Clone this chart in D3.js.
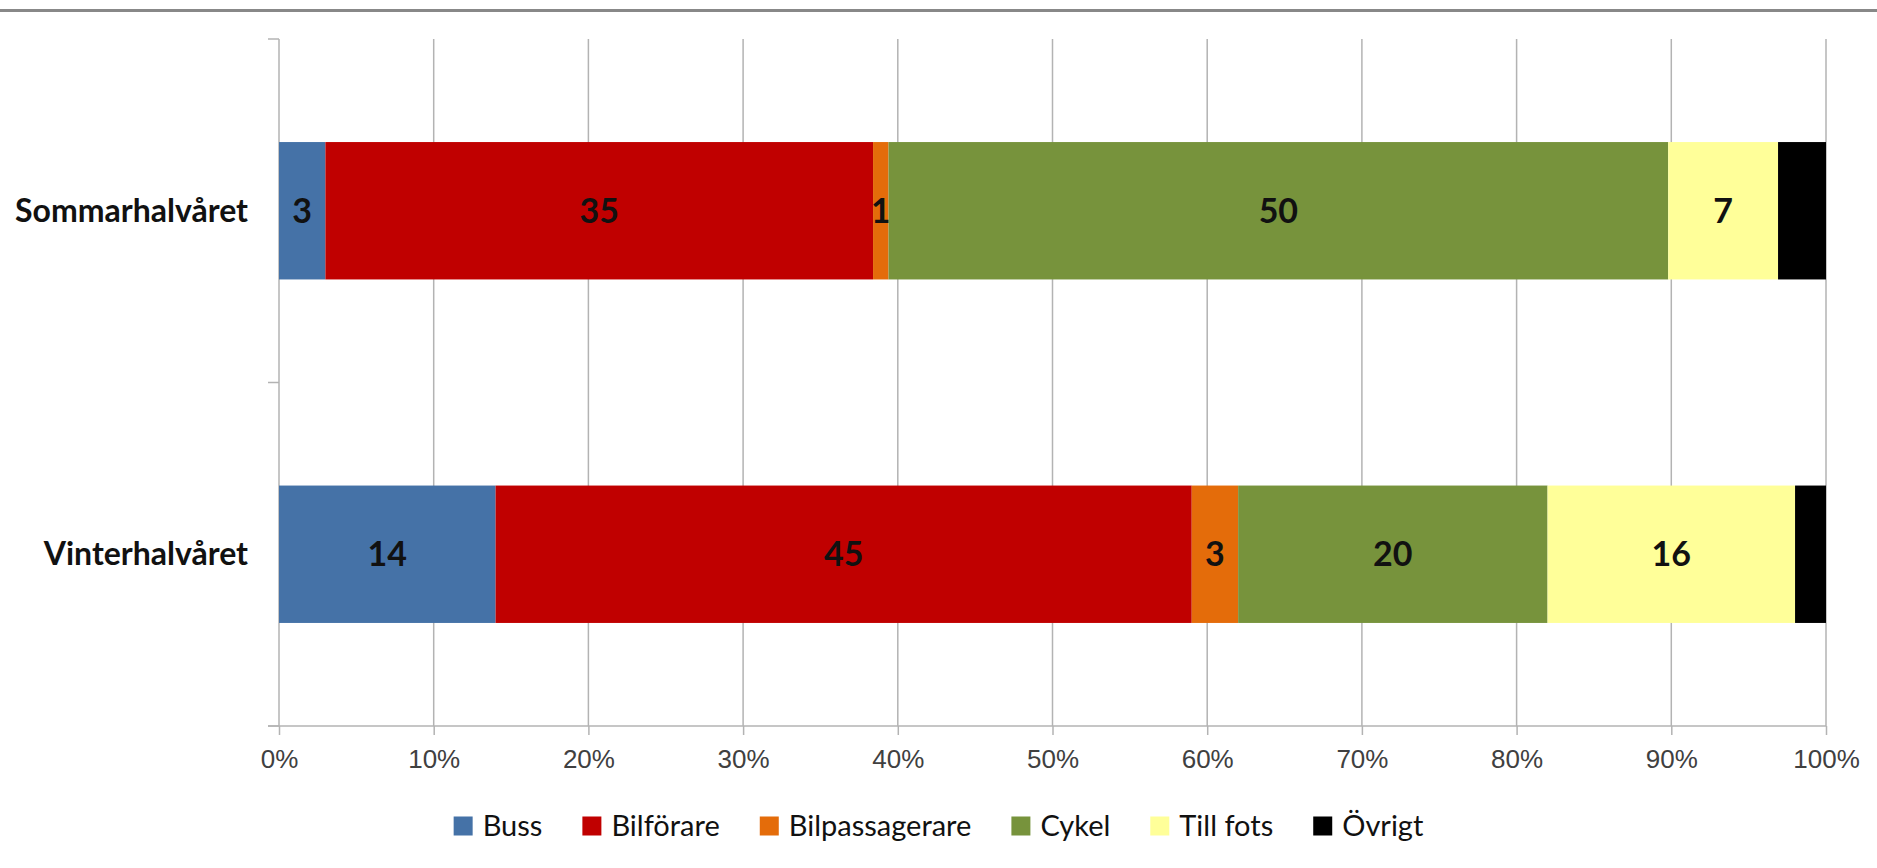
<!DOCTYPE html>
<html lang="sv">
<head>
<meta charset="utf-8" />
<title>Färdmedel sommar/vinter</title>
<style>
  body { margin: 0; background: #fff; }
  svg { display: block; font-family: Lato, "Open Sans", sans-serif; }
  .grid line { stroke: #b3b3b3; stroke-width: 1.5; }
  .axis path, .axis line { stroke: #b3b3b3; stroke-width: 1.5; fill: none; }
  .xlab { font-size: 26px; fill: #404040; }
  .ylab { font-size: 32px; font-weight: bold; fill: #111; }
  .val { font-size: 34px; font-weight: bold; fill: #111; }
  .leg text { font-size: 29px; fill: #111; }
</style>
</head>
<body>
<div id="chart"></div>
<script src="https://d3js.org/d3.v7.min.js"></script>
<script>
// data (share in %)
var categories = ["Sommarhalvåret", "Vinterhalvåret"];
var seriesNames = ["Buss", "Bilförare", "Bilpassagerare", "Cykel", "Till fots", "Övrigt"];
var sommarValues = [3.0, 35.4, 1.0, 50.4, 7.1, 3.1];
var vinterValues = [14, 45, 3, 20, 16, 2];
var seriesColors = ["#4572a7", "#c00000", "#e46c0a", "#77933c", "#ffff99", "#000000"];
var showLabel = [true, true, true, true, true, false];
var tickValues = [0, 10, 20, 30, 40, 50, 60, 70, 80, 90, 100];

var width = 1877, height = 868;
var margin = {top: 39, right: 51, bottom: 142, left: 279};

var svg = d3.select("#chart").append("svg")
    .attr("width", width)
    .attr("height", height);

// grey rule across the top
svg.append("line")
   .attr("x1", 0).attr("x2", width)
   .attr("y1", 10.5).attr("y2", 10.5)
   .attr("stroke", "#888").attr("stroke-width", 3);

var x = d3.scaleLinear().domain([0, 100]).range([margin.left, width - margin.right]);
var y = d3.scaleBand().domain(categories)
    .range([margin.top, height - margin.bottom])
    .paddingInner(0.6).paddingOuter(0.3);

var rows = categories.map(function(c, i) {
  var vals = i === 0 ? sommarValues : vinterValues;
  var row = {cat: c};
  seriesNames.forEach(function(s, j) { row[s] = vals[j]; });
  return row;
});
var stacked = d3.stack().keys(seriesNames)(rows);

// vertical gridlines
svg.append("g").attr("class", "grid")
  .selectAll("line")
  .data(tickValues.slice(1))
  .enter().append("line")
  .attr("x1", function(d) { return x(d); })
  .attr("x2", function(d) { return x(d); })
  .attr("y1", margin.top)
  .attr("y2", height - margin.bottom);

// x axis
var xAxis = svg.append("g").attr("class", "axis")
  .attr("transform", "translate(0," + (height - margin.bottom) + ")")
  .call(d3.axisBottom(x).tickValues(tickValues).tickSize(9).tickSizeOuter(0)
        .tickFormat(function(d) { return d + "%"; }));
xAxis.select(".domain").attr("d", "M" + (margin.left - 11) + ",0H" + x(100));
xAxis.selectAll("text").attr("class", "xlab").attr("y", 24).attr("dy", "0.71em");

// y axis: line plus ticks at band boundaries
var step = y.step();
var yTicks = [margin.top, margin.top + step, height - margin.bottom];
var yAxis = svg.append("g").attr("class", "axis");
yAxis.append("line")
  .attr("x1", margin.left).attr("x2", margin.left)
  .attr("y1", margin.top).attr("y2", height - margin.bottom);
yAxis.selectAll(".yt").data(yTicks).enter().append("line")
  .attr("x1", margin.left - 11).attr("x2", margin.left)
  .attr("y1", function(d) { return d; }).attr("y2", function(d) { return d; });

yAxis.selectAll(".ylab").data(categories).enter().append("text")
  .attr("class", "ylab")
  .attr("x", margin.left - 31)
  .attr("y", function(d) { return y(d) + y.bandwidth() / 2; })
  .attr("dy", "0.35em")
  .attr("text-anchor", "end")
  .text(function(d) { return d; });

// bars
var layers = svg.selectAll(".layer").data(stacked).enter().append("g")
  .attr("class", "layer")
  .attr("fill", function(d, i) { return seriesColors[i]; });

layers.selectAll("rect").data(function(d) { return d; }).enter().append("rect")
  .attr("x", function(d) { return x(d[0]); })
  .attr("y", function(d) { return y(d.data.cat); })
  .attr("width", function(d) { return x(d[1]) - x(d[0]); })
  .attr("height", y.bandwidth());

layers.filter(function(d, i) { return showLabel[i]; })
  .selectAll("text").data(function(d) { return d; }).enter().append("text")
  .attr("class", "val")
  .attr("x", function(d) { return (x(d[0]) + x(d[1])) / 2; })
  .attr("y", function(d) { return y(d.data.cat) + y.bandwidth() / 2; })
  .attr("dy", "0.35em")
  .attr("text-anchor", "middle")
  .text(function(d) { return Math.round(d[1] - d[0]); });

// legend
var leg = svg.append("g").attr("class", "leg");
var items = leg.selectAll("g").data(seriesNames).enter().append("g");
items.append("rect")
  .attr("width", 19).attr("height", 19).attr("y", -9.5)
  .attr("fill", function(d, i) { return seriesColors[i]; });
items.append("text")
  .attr("x", 29).attr("dy", "0.35em")
  .text(function(d) { return d; });

var gap = 40;
var pos = 0;
items.each(function() {
  var w = 29 + this.querySelector("text").getComputedTextLength();
  d3.select(this).attr("transform", "translate(" + pos + ",0)");
  pos += w + gap;
});
var legW = pos - gap;
leg.attr("transform", "translate(" + ((width - legW) / 2) + ",826)");
</script>
</body>
</html>
